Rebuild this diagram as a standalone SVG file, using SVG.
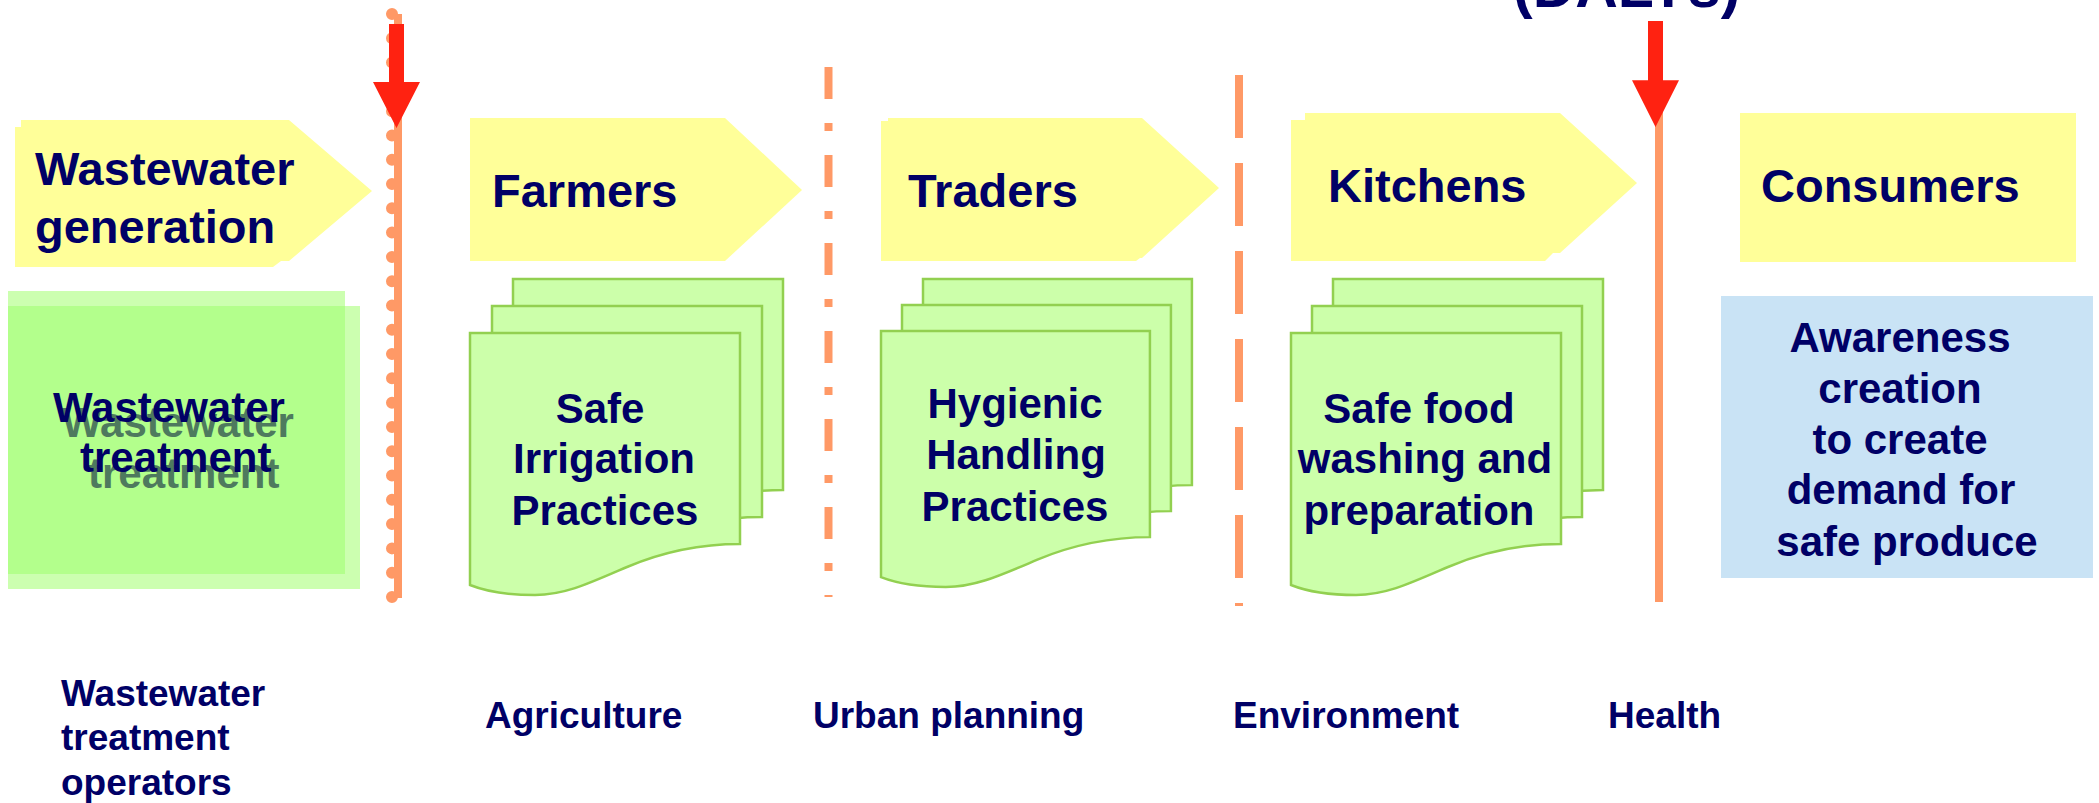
<svg xmlns="http://www.w3.org/2000/svg" xmlns:xlink="http://www.w3.org/1999/xlink" width="2099" height="803" viewBox="0 0 2099 803">
  <style>
    text { font-family: "Liberation Sans", Arial, sans-serif; font-weight: bold; fill: #000066; }
    .stage { fill: #FFFF99; }
    .head { font-size: 47px; }
    .body { font-size: 42px; }
    .mid { text-anchor: middle; }
    .label { font-size: 37px; }
    .sheet { fill: #CCFFAA; stroke: #92D050; stroke-width: 2.5; }
    .divider { fill: none; stroke: #FF9966; stroke-width: 8; }
    .alert { fill: #FF2211; }
  </style>
  <defs>
    <!-- one document sheet with a wavy lower edge -->
    <path id="sheet" d="M0,0 H270 V211 C230,211 190,220 157,234 C120,250 95,262 65,262 C35,262 15,258 0,252 Z"/>
    <!-- downward red pointer -->
    <path id="pointer" d="M-7.5,0 H7.5 V58 H23.5 L0,104 L-23.5,58 H-7.5 Z"/>
  </defs>

  <!-- heading, cut by the top edge -->
  <text x="1513" y="7" style="font-size:59px">(DALYs)</text>

  <!-- stage arrows -->
  <g id="node-wastewater-generation">
    <path class="stage" d="M21,120 H289 L372,191 L289,261 H281 L273,267 H15 V127 H21 Z"/>
    <text class="head" x="35" y="185">Wastewater</text>
    <text class="head" x="35" y="243">generation</text>
  </g>
  <g id="node-farmers">
    <path class="stage" d="M470,118 H725 L802,190 L725,261 H470 Z"/>
    <text class="head" x="492" y="207">Farmers</text>
  </g>
  <g id="node-traders">
    <path class="stage" d="M888,118 H1142 L1219,188 L1142,258 H1140 L1136,261 H881 V121 H888 Z"/>
    <text class="head" x="908" y="207">Traders</text>
  </g>
  <g id="node-kitchens">
    <path class="stage" d="M1305,113 H1560 L1637,183 L1560,253 H1553 L1545,261 H1291 V120 H1305 Z"/>
    <text class="head" x="1328" y="202">Kitchens</text>
  </g>
  <g id="node-consumers">
    <rect class="stage" x="1740" y="113" width="336" height="149"/>
    <text class="head" x="1761" y="202">Consumers</text>
  </g>

  <!-- measures under each stage -->
  <g id="node-wastewater-treatment">
    <rect x="8" y="291" width="337" height="283" fill="#CCFFB0"/>
    <rect x="8" y="306" width="352" height="283" fill="#CCFFB0"/>
    <rect x="8" y="306" width="337" height="268" fill="#B3FF8C"/>
    <text class="body" x="62" y="437" style="fill:#4E7A5E">Wastewater</text>
    <text class="body" x="88" y="488" style="fill:#4E7A5E">treatment</text>
    <text class="body" x="53" y="422">Wastewater</text>
    <text class="body" x="80" y="472">treatment</text>
  </g>
  <g id="node-safe-irrigation">
    <use xlink:href="#sheet" class="sheet" x="513" y="279"/>
    <use xlink:href="#sheet" class="sheet" x="492" y="306"/>
    <use xlink:href="#sheet" class="sheet" x="470" y="333"/>
    <text class="body mid" x="600" y="423">Safe</text>
    <text class="body mid" x="604" y="473">Irrigation</text>
    <text class="body mid" x="605" y="525">Practices</text>
  </g>
  <g id="node-hygienic-handling">
    <use xlink:href="#sheet" class="sheet" x="923" y="279" transform="translate(923,279) scale(0.996,0.977) translate(-923,-279)"/>
    <use xlink:href="#sheet" class="sheet" x="902" y="305" transform="translate(902,305) scale(0.996,0.977) translate(-902,-305)"/>
    <use xlink:href="#sheet" class="sheet" x="881" y="331" transform="translate(881,331) scale(0.996,0.977) translate(-881,-331)"/>
    <text class="body mid" x="1015" y="418">Hygienic</text>
    <text class="body mid" x="1016" y="469">Handling</text>
    <text class="body mid" x="1015" y="521">Practices</text>
  </g>
  <g id="node-safe-food">
    <use xlink:href="#sheet" class="sheet" x="1333" y="279"/>
    <use xlink:href="#sheet" class="sheet" x="1312" y="306"/>
    <use xlink:href="#sheet" class="sheet" x="1291" y="333"/>
    <text class="body mid" x="1419" y="423">Safe food</text>
    <text class="body mid" x="1425" y="473">washing and</text>
    <text class="body mid" x="1419" y="525">preparation</text>
  </g>
  <g id="node-awareness">
    <rect x="1721" y="296" width="372" height="282" fill="#C9E3F5"/>
    <text class="body mid" x="1900" y="352">Awareness</text>
    <text class="body mid" x="1900" y="403">creation</text>
    <text class="body mid" x="1900" y="454">to create</text>
    <text class="body mid" x="1901" y="504">demand for</text>
    <text class="body mid" x="1907" y="556">safe produce</text>
  </g>

  <!-- dividers between stages and the red pointers -->
  <g id="connectors">
    <line x1="392" y1="14" x2="392" y2="598" fill="none" stroke="#FF9966" stroke-width="12" stroke-linecap="round" stroke-dasharray="0 24.29"/>
    <line class="divider" x1="398" y1="14" x2="398" y2="598"/>
    <line class="divider" x1="828.5" y1="67" x2="828.5" y2="597" stroke-width="9" stroke-dasharray="32 24 8 24"/>
    <line class="divider" x1="1239" y1="75" x2="1239" y2="606" stroke-dasharray="63 25"/>
    <line class="divider" x1="1659" y1="79" x2="1659" y2="602"/>
    <use xlink:href="#pointer" class="alert" transform="translate(396.5,24)"/>
    <use xlink:href="#pointer" class="alert" transform="translate(1655.5,21) scale(1,1.02)"/>
  </g>

  <!-- sector labels -->
  <g id="labels">
    <text class="label" x="61" y="706">Wastewater</text>
    <text class="label" x="61" y="750">treatment</text>
    <text class="label" x="61" y="795">operators</text>
    <text class="label" x="485" y="728">Agriculture</text>
    <text class="label" x="813" y="728">Urban planning</text>
    <text class="label" x="1233" y="728">Environment</text>
    <text class="label" x="1608" y="728">Health</text>
  </g>
</svg>
